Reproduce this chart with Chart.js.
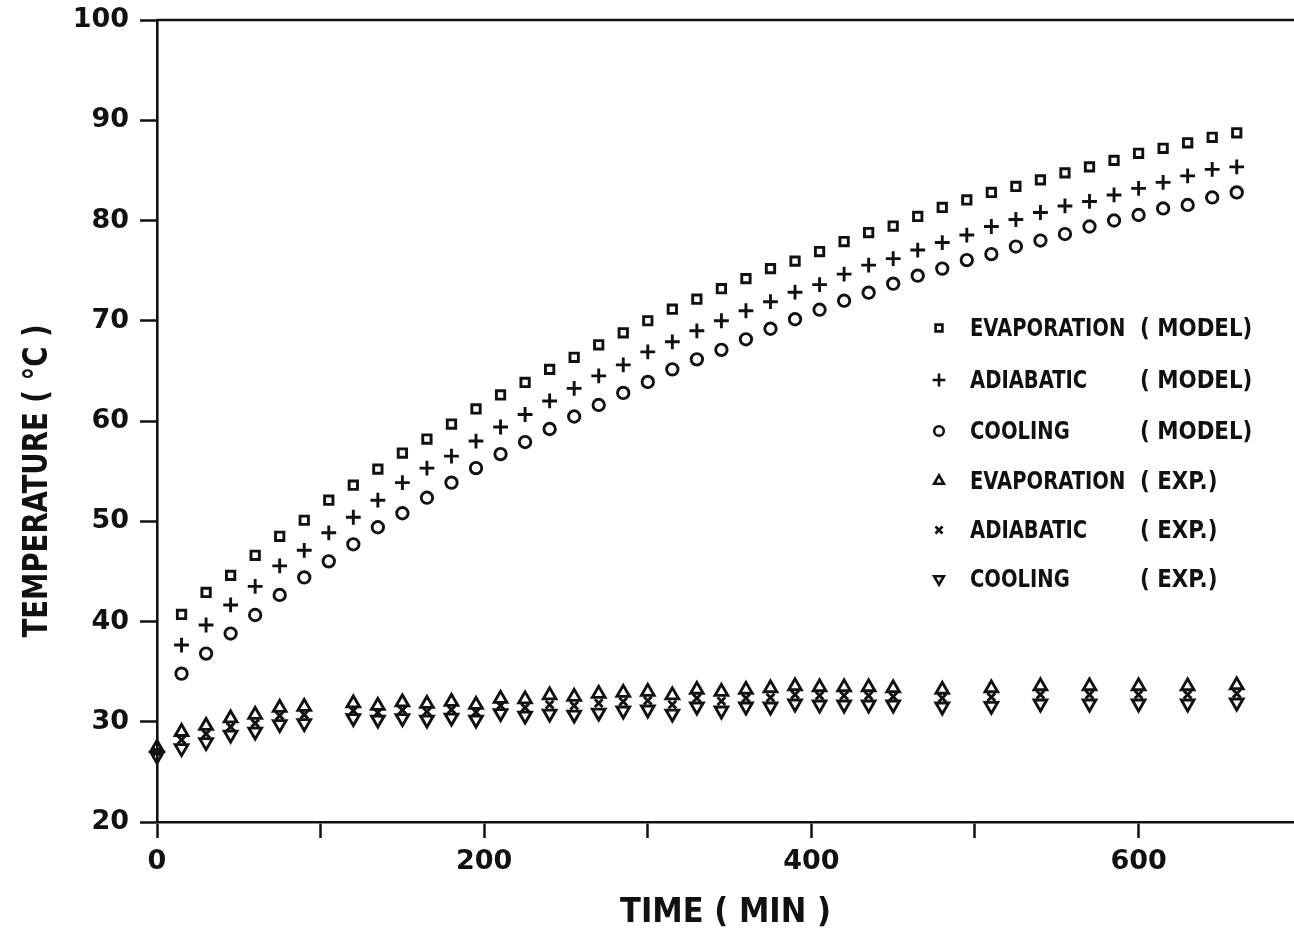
<!DOCTYPE html>
<html>
<head>
<meta charset="utf-8">
<script src="https://cdn.jsdelivr.net/npm/chart.js@4.4.1/dist/chart.umd.min.js"></script>
<style>
  html, body { margin: 0; padding: 0; background: #fff; }
  #wrap { width: 1294px; height: 934px; }
</style>
</head>
<body>
<div id="wrap"><canvas id="c" width="1294" height="934"></canvas></div>
<script>
// ---------- data ----------
const timeModel = [15,30,45,60,75,90,105,120,135,150,165,180,195,210,225,240,255,270,285,300,315,330,345,360,375,390,405,420,435,450,465,480,495,510,525,540,555,570,585,600,615,630,645,660];
const evapModel = [40.7,42.9,44.6,46.6,48.5,50.1,52.1,53.6,55.2,56.8,58.2,59.7,61.2,62.6,63.85,65.15,66.35,67.6,68.8,70.0,71.15,72.15,73.2,74.2,75.2,75.95,76.9,77.9,78.8,79.45,80.4,81.3,82.05,82.8,83.4,84.05,84.75,85.35,86.0,86.7,87.2,87.75,88.3,88.75];
const adiabModel = [37.65,39.65,41.65,43.5,45.55,47.1,48.85,50.4,52.1,53.85,55.3,56.5,58.0,59.4,60.65,62.0,63.25,64.5,65.6,66.9,67.9,69.0,70.0,71.0,71.9,72.85,73.6,74.65,75.55,76.2,77.05,77.8,78.55,79.4,80.1,80.8,81.45,81.9,82.55,83.2,83.8,84.45,85.1,85.35];
const coolModel = [34.8,36.8,38.8,40.65,42.65,44.4,46.0,47.7,49.4,50.8,52.35,53.85,55.3,56.7,57.9,59.2,60.45,61.6,62.8,63.9,65.15,66.15,67.1,68.15,69.2,70.15,71.1,72.0,72.8,73.7,74.5,75.2,76.05,76.65,77.4,78.0,78.65,79.4,80.0,80.55,81.2,81.55,82.3,82.8];

const timeExp = [0,15,30,45,60,75,90,120,135,150,165,180,195,210,225,240,255,270,285,300,315,330,345,360,375,390,405,420,435,450,480,510,540,570,600,630,660];
const evapExp = [27.4,29.0,29.6,30.35,30.7,31.4,31.5,31.85,31.6,31.95,31.8,32.0,31.7,32.3,32.25,32.65,32.5,32.8,32.9,33.0,32.65,33.2,33.0,33.2,33.35,33.55,33.45,33.45,33.45,33.35,33.2,33.35,33.55,33.55,33.55,33.55,33.65];
const adiabExp = [27.0,28.2,28.8,29.5,29.85,30.6,30.7,31.1,30.9,31.15,31.0,31.2,30.95,31.6,31.4,31.7,31.6,31.85,32.0,32.1,31.7,32.35,32.05,32.35,32.4,32.7,32.6,32.6,32.6,32.5,32.35,32.45,32.7,32.7,32.7,32.7,32.8];
const coolExp = [26.6,27.35,27.95,28.7,29.0,29.75,29.85,30.35,30.2,30.35,30.2,30.4,30.2,30.85,30.6,30.8,30.7,30.9,31.1,31.2,30.8,31.5,31.1,31.5,31.5,31.8,31.7,31.7,31.7,31.7,31.5,31.57,31.8,31.8,31.8,31.8,31.9];

const xTickValues = [0,100,200,300,400,500,600];
const xTickLabels = ['0','','200','','400','','600'];
const yTickValues = [20,30,40,50,60,70,80,90,100];

const seriesNames = ['EVAPORATION ( MODEL)','ADIABATIC ( MODEL)','COOLING ( MODEL)','EVAPORATION ( EXP.)','ADIABATIC ( EXP.)','COOLING ( EXP.)'];
const xTitle = 'TIME ( MIN )';
const yTitle = 'TEMPERATURE ( \u00B0C )';

// ---------- build ----------
const pair = (xs, ys) => xs.map((x, i) => ({ x: x, y: ys[i] }));
const INK = '#111';
const NARROW = "'Liberation Sans Narrow', 'Arial Narrow', 'DejaVu Sans Condensed', sans-serif";
const WIDE = "'DejaVu Sans', 'Liberation Sans', sans-serif";

function ds(label, xs, ys, style, radius, rotation) {
  return {
    label: label,
    data: pair(xs, ys),
    pointStyle: style,
    pointRadius: radius,
    pointHoverRadius: radius,
    pointRotation: rotation || 0,
    pointBorderWidth: 2.9,
    pointBorderColor: INK,
    pointBackgroundColor: 'rgba(0,0,0,0)',
    borderColor: INK,
    backgroundColor: 'rgba(0,0,0,0)',
    showLine: false,
    clip: false
  };
}

const datasets = [
  ds(seriesNames[0], timeModel, evapModel, 'rect', 5.9),
  ds(seriesNames[1], timeModel, adiabModel, 'cross', 7.4),
  ds(seriesNames[2], timeModel, coolModel, 'circle', 5.7),
  ds(seriesNames[3], timeExp, evapExp, 'triangle', 7.3),
  ds(seriesNames[4], timeExp, adiabExp, 'crossRot', 5.5),
  ds(seriesNames[5], timeExp, coolExp, 'triangle', 7.3, 180)
];

function squeezeText(ctx, text, x, y, sx) {
  ctx.save();
  ctx.translate(x, y);
  ctx.scale(sx, 1);
  ctx.fillText(text, 0, 0);
  ctx.restore();
}

const legendPlugin = {
  id: 'innerLegend',
  afterDatasetsDraw(chart) {
    const ctx = chart.ctx;
    const rows = [328, 380, 431, 481, 530, 579];
    const markX = 939, nameX = 970, parenX = 1140;
    ctx.save();
    chart.data.datasets.forEach((d, i) => {
      const y = rows[i];
      ctx.strokeStyle = INK;
      ctx.fillStyle = 'rgba(0,0,0,0)';
      ctx.lineWidth = 2.6;
      const r = d.pointStyle === 'triangle' ? 5.6 : (d.pointStyle === 'cross' ? 6.4 : (d.pointStyle === 'crossRot' ? 5 : 4.8));
      Chart.helpers.drawPoint(ctx, { pointStyle: d.pointStyle, rotation: d.pointRotation, radius: r, borderWidth: 2.6 }, markX, y);
      const idx = d.label.indexOf('(');
      const name = d.label.slice(0, idx).trim();
      const paren = d.label.slice(idx);
      ctx.fillStyle = INK;
      ctx.font = "bold 25px " + NARROW;
      ctx.textBaseline = 'middle';
      ctx.textAlign = 'left';
      squeezeText(ctx, name, nameX, y + 1, 0.87);
      squeezeText(ctx, paren, parenX, y + 1, 0.95);
    });
    ctx.restore();
  },
  afterDraw(chart) {
    const ctx = chart.ctx;
    const a = chart.chartArea;
    ctx.save();
    // top frame line
    ctx.strokeStyle = INK;
    ctx.lineWidth = 2.6;
    ctx.beginPath();
    ctx.moveTo(a.left, a.top);
    ctx.lineTo(a.right, a.top);
    ctx.stroke();
    // y-axis title
    ctx.translate(38, 481);
    ctx.rotate(-Math.PI / 2);
    ctx.scale(0.9, 1);
    ctx.fillStyle = INK;
    ctx.font = "bold 34px " + NARROW;
    ctx.textAlign = 'center';
    ctx.textBaseline = 'middle';
    ctx.fillText(yTitle, 0, 0);
    ctx.restore();
  }
};

new Chart(document.getElementById('c'), {
  type: 'scatter',
  data: { datasets: datasets },
  plugins: [legendPlugin],
  options: {
    responsive: false,
    animation: false,
    events: [],
    layout: { autoPadding: false, padding: { top: 20, right: 0, left: 0, bottom: 0 } },
    plugins: { legend: { display: false }, tooltip: { enabled: false } },
    scales: {
      x: {
        type: 'linear',
        min: 0,
        max: 695,
        afterBuildTicks(scale) { scale.ticks = xTickValues.map(v => ({ value: v })); },
        afterFit(scale) { scale.height = 112; scale.paddingLeft = 0; scale.paddingRight = 0; },
        ticks: {
          callback(v) { const i = xTickValues.indexOf(v); return i >= 0 ? xTickLabels[i] : ''; },
          color: INK,
          font: { family: WIDE, weight: 'bold', size: 27 },
          padding: 8,
          maxRotation: 0,
          autoSkip: false
        },
        grid: { drawOnChartArea: false, drawTicks: true, tickLength: 16, tickWidth: 2.5, tickColor: INK, color: INK },
        border: { display: true, color: INK, width: 2.6 },
        title: {
          display: true,
          text: xTitle,
          color: INK,
          font: { family: NARROW, weight: 'bold', size: 34 },
          padding: { top: 0, bottom: 0 }
        }
      },
      y: {
        type: 'linear',
        min: 20,
        max: 100,
        afterBuildTicks(scale) { scale.ticks = yTickValues.map(v => ({ value: v })); },
        afterFit(scale) { scale.width = 157; scale.paddingTop = 0; scale.paddingBottom = 0; },
        ticks: {
          color: INK,
          font: { family: WIDE, weight: 'bold', size: 27 },
          padding: 11
        },
        grid: { drawOnChartArea: false, drawTicks: true, tickLength: 17, tickWidth: 2.5, tickColor: INK, color: INK },
        border: { display: true, color: INK, width: 2.6 }
      }
    }
  }
});
</script>
</body>
</html>
